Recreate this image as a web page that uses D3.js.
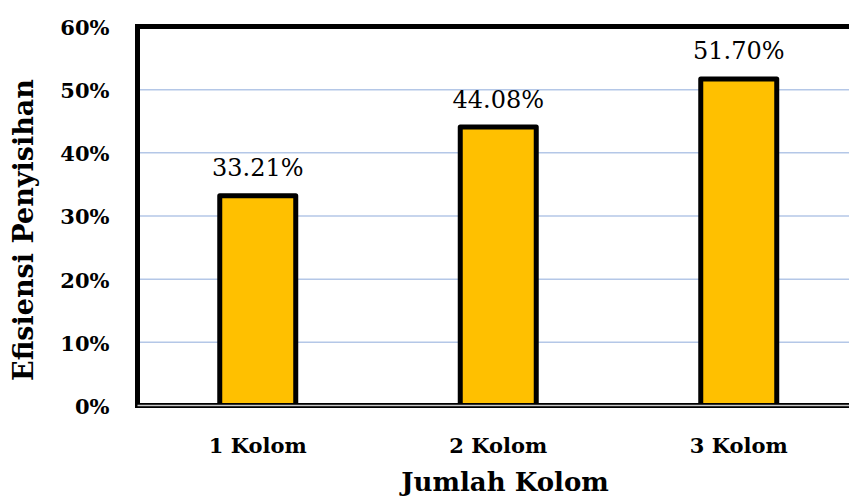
<!DOCTYPE html>
<html lang="en">
	<head>
		<meta charset="utf-8">
		<title>Efisiensi Penyisihan</title>
		<script src="https://d3js.org/d3.v7.min.js"></script>
		<style type="text/css">
			body {
				margin: 0;
				background-color: #ffffff;
				font-family: "DejaVu Serif", "Liberation Serif", serif;
			}
		</style>
	</head>
	<body>
		<script type="text/javascript">

			// Data
			var categories = ["1 Kolom", "2 Kolom", "3 Kolom"];
			var values = [0.3321, 0.4408, 0.5170];
			var valueLabels = ["33.21%", "44.08%", "51.70%"];
			var yTicks = [0, 0.1, 0.2, 0.3, 0.4, 0.5, 0.6];

			//Width and height
			var w = 849;
			var h = 498;

			var plotLeft = 137.5, plotTop = 26.5, plotBottom = 405.5;
			var step = 240.5;
			var plotRight = plotLeft + step * categories.length;

			var x = d3.scaleBand()
				.domain(categories)
				.range([plotLeft, plotRight])
				.paddingInner(0.684)
				.paddingOuter(0.342);

			var y = d3.scaleLinear()
				.domain([0, 0.6])
				.range([plotBottom, plotTop]);

			var svg = d3.select("body")
				.append("svg")
				.attr("width", w)
				.attr("height", h);

			// gridlines
			svg.append("g")
				.selectAll("line")
				.data(yTicks.slice(1, -1))
				.enter().append("line")
				.attr("x1", plotLeft)
				.attr("x2", plotRight)
				.attr("y1", function(d) { return y(d); })
				.attr("y2", function(d) { return y(d); })
				.style("stroke", "#b4c7e7")
				.style("stroke-width", 1.5);

			// bars
			svg.append("g")
				.selectAll("rect")
				.data(values)
				.enter().append("rect")
				.attr("x", function(d, i) { return x(categories[i]); })
				.attr("width", x.bandwidth())
				.attr("y", function(d) { return y(d); })
				.attr("height", function(d) { return y(0) - y(d); })
				.style("fill", "#ffc000")
				.style("stroke", "#000")
				.style("stroke-width", 5)
				.style("stroke-linejoin", "round");

			// plot frame
			svg.append("rect")
				.attr("x", plotLeft)
				.attr("y", plotTop)
				.attr("width", plotRight - plotLeft)
				.attr("height", plotBottom - plotTop)
				.style("fill", "none")
				.style("stroke", "#000")
				.style("stroke-width", 5);

			svg.append("line")
				.attr("x1", plotLeft)
				.attr("x2", plotRight)
				.attr("y1", plotBottom)
				.attr("y2", plotBottom)
				.style("stroke", "#c8c8c8")
				.style("stroke-width", 1.5);

			// value labels
			svg.append("g")
				.selectAll("text")
				.data(values)
				.enter().append("text")
				.attr("x", function(d, i) { return x(categories[i]) + x.bandwidth() / 2; })
				.attr("y", function(d) { return y(d) - 19.5; })
				.attr("text-anchor", "middle")
				.attr("font-size", "24px")
				.attr("fill", "#000")
				.text(function(d, i) { return valueLabels[i]; });

			// y axis
			var yAxis = svg.append("g")
				.attr("transform", "translate(" + (plotLeft - 28) + ",0)")
				.call(d3.axisLeft(y)
					.tickValues(yTicks)
					.tickSize(0)
					.tickFormat(d3.format(".0%")));
			yAxis.select(".domain").remove();
			yAxis.selectAll("text")
				.attr("x", 0)
				.attr("dy", "0.38em")
				.attr("font-family", "DejaVu Serif")
				.attr("font-weight", "bold")
				.attr("font-size", "21px")
				.attr("fill", "#000");

			// x axis
			var xAxis = svg.append("g")
				.attr("transform", "translate(0," + plotBottom + ")")
				.call(d3.axisBottom(x).tickSize(0));
			xAxis.select(".domain").remove();
			xAxis.selectAll("text")
				.attr("y", 47)
				.attr("dy", 0)
				.attr("font-family", "DejaVu Serif")
				.attr("font-weight", "bold")
				.attr("font-size", "21px")
				.attr("fill", "#000");

			// axis titles
			svg.append("text")
				.attr("x", 505)
				.attr("y", 491)
				.attr("text-anchor", "middle")
				.attr("font-weight", "bold")
				.attr("font-size", "26px")
				.text("Jumlah Kolom");

			svg.append("text")
				.attr("transform", "translate(33,230) rotate(-90)")
				.attr("text-anchor", "middle")
				.attr("font-weight", "bold")
				.attr("font-size", "27px")
				.text("Efisiensi Penyisihan");

		</script>
	</body>
</html>
